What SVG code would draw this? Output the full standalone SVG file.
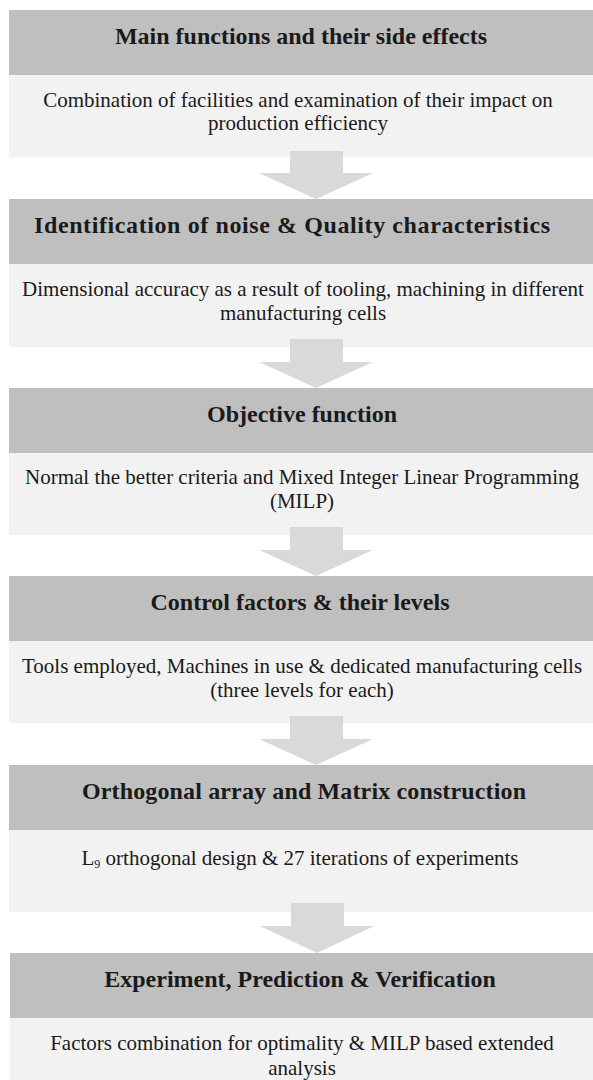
<svg xmlns="http://www.w3.org/2000/svg" width="593" height="1080" viewBox="0 0 593 1080">
<style>
.hd{fill:#bfbfbf}
.bd{fill:#f2f2f2}
.ar{fill:#d9d9d9}
.ht{font-family:"Liberation Serif","Times New Roman",serif;font-weight:bold;font-size:24px;fill:#1a1a1a;text-anchor:middle}
.bt{font-family:"Liberation Serif","Times New Roman",serif;font-size:21px;fill:#1a1a1a;text-anchor:middle}
</style>
<rect width="593" height="1080" fill="#ffffff"/>
<g id="node1">
<rect class="hd" x="9" y="10" width="584" height="65"/>
<rect class="bd" x="9" y="75" width="584" height="82"/>
<text class="ht" x="301" y="44">Main functions and their side effects</text>
<text class="bt" x="298" y="107">Combination of facilities and examination of their impact on</text>
<text class="bt" x="298" y="130">production efficiency</text>
</g>
<g id="node2">
<rect class="hd" x="9" y="199" width="584" height="65"/>
<rect class="bd" x="9" y="264" width="584" height="83"/>
<text class="ht" x="292" y="233" textLength="516" lengthAdjust="spacing">Identification of noise &amp; Quality characteristics</text>
<text class="bt" x="303" y="296">Dimensional accuracy as a result of tooling, machining in different</text>
<text class="bt" x="303" y="320">manufacturing cells</text>
</g>
<g id="node3">
<rect class="hd" x="9" y="388" width="584" height="65"/>
<rect class="bd" x="9" y="453" width="584" height="82"/>
<text class="ht" x="302" y="422">Objective function</text>
<text class="bt" x="302" y="484">Normal the better criteria and Mixed Integer Linear Programming</text>
<text class="bt" x="302" y="508">(MILP)</text>
</g>
<g id="node4">
<rect class="hd" x="9" y="576" width="584" height="65"/>
<rect class="bd" x="9" y="641" width="584" height="82"/>
<text class="ht" x="300" y="610">Control factors &amp; their levels</text>
<text class="bt" x="302" y="673">Tools employed, Machines in use &amp; dedicated manufacturing cells</text>
<text class="bt" x="302" y="697">(three levels for each)</text>
</g>
<g id="node5">
<rect class="hd" x="9" y="765" width="584" height="65"/>
<rect class="bd" x="9" y="830" width="584" height="82"/>
<text class="ht" x="304" y="799" textLength="444" lengthAdjust="spacing">Orthogonal array and Matrix construction</text>
<text class="bt" x="300" y="865">L<tspan font-size="12" dy="3">9</tspan><tspan dy="-3"> orthogonal design &amp; 27 iterations of experiments</tspan></text>
</g>
<g id="node6">
<rect class="hd" x="10" y="953" width="583" height="65"/>
<rect class="bd" x="10" y="1018" width="583" height="62"/>
<text class="ht" x="300" y="987">Experiment, Prediction &amp; Verification</text>
<text class="bt" x="302" y="1050">Factors combination for optimality &amp; MILP based extended</text>
<text class="bt" x="302" y="1075">analysis</text>
</g>
<g id="connectors">
<path class="ar" d="M290,151 H343 V173 H373 L316,199 L259,173 H290 Z"/>
<path class="ar" d="M290,339 H343 V362 H373 L316,388 L259,362 H290 Z"/>
<path class="ar" d="M290,527 H343 V550 H373 L316,576 L259,550 H290 Z"/>
<path class="ar" d="M290,716 H343 V739 H373 L316,765 L259,739 H290 Z"/>
<path class="ar" d="M291,903 H344 V926 H374 L317,953 L260,926 H291 Z"/>
</g>
</svg>
